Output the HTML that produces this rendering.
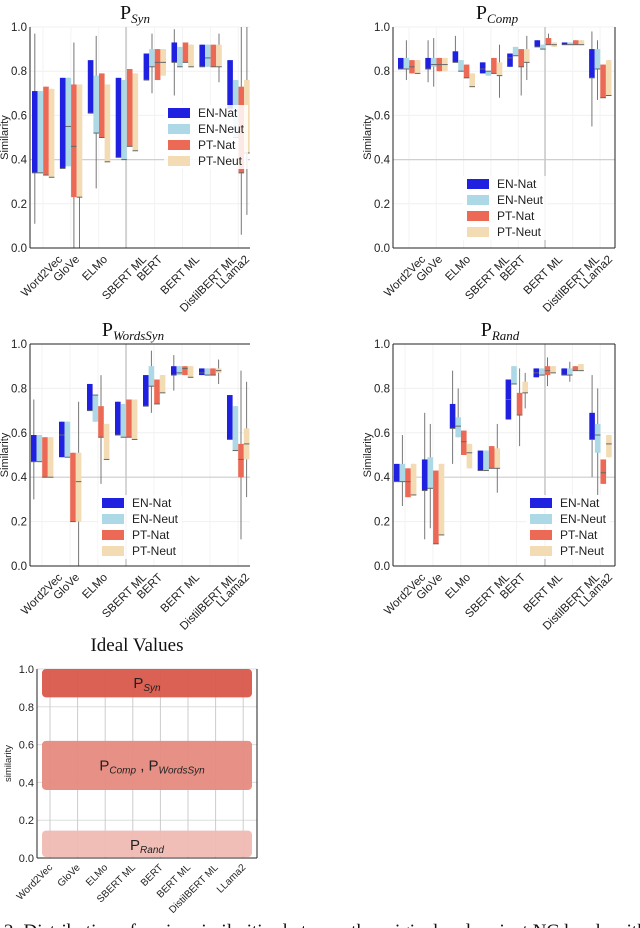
<!DOCTYPE html>
<html><head><meta charset="utf-8">
<style>
html,body{margin:0;padding:0;background:#fff;width:640px;height:928px;overflow:hidden}
svg{display:block}
.t{font-family:"Liberation Sans",sans-serif;fill:#222}
.s{font-family:"Liberation Serif",serif;fill:#111}
</style></head><body>
<svg id="chart" width="640" height="928" viewBox="0 0 640 928" xmlns="http://www.w3.org/2000/svg"></svg>
<script>
const models = ["Word2Vec","GloVe","ELMo","SBERT ML","BERT","BERT ML","DistilBERT ML","LLama2"];
const series = ["EN-Nat","EN-Neut","PT-Nat","PT-Neut"];
const colors = ["#2020e0","#add8e6","#ec6a55","#f3dcb4"];
const yTicks = [0,0.2,0.4,0.6,0.8,1.0];
const yTickLabels = ["0.0","0.2","0.4","0.6","0.8","1.0"];
// each box: [whiskerLow, q1, median, q3, whiskerHigh]
const pSyn = [
 [[0.11,0.34,0.34,0.71,0.97],[0.34,0.34,0.34,0.71,0.71],[0.33,0.33,0.33,0.73,0.73],[0.32,0.32,0.32,0.72,0.72]],
 [[0.36,0.36,0.36,0.77,0.77],[0.37,0.37,0.55,0.77,0.77],[0.0,0.23,0.46,0.74,0.93],[0.0,0.23,0.23,0.74,0.74]],
 [[0.61,0.61,0.61,0.85,0.85],[0.27,0.52,0.52,0.78,0.96],[0.50,0.50,0.50,0.79,0.79],[0.39,0.39,0.39,0.74,0.74]],
 [[0.41,0.41,0.41,0.77,0.77],[0.40,0.40,0.40,0.76,0.76],[0.46,0.46,0.46,0.81,0.81],[0.44,0.44,0.44,0.79,0.79]],
 [[0.76,0.76,0.76,0.88,0.88],[0.70,0.82,0.82,0.90,0.97],[0.76,0.76,0.84,0.90,0.90],[0.78,0.78,0.84,0.90,0.90]],
 [[0.69,0.84,0.84,0.93,0.99],[0.82,0.82,0.82,0.91,0.91],[0.84,0.84,0.84,0.93,0.93],[0.82,0.82,0.82,0.92,0.92]],
 [[0.82,0.82,0.82,0.92,0.92],[0.82,0.82,0.86,0.92,0.92],[0.82,0.82,0.82,0.92,0.92],[0.75,0.82,0.82,0.92,0.97]],
 [[0.63,0.63,0.63,0.85,0.85],[0.50,0.50,0.50,0.76,0.76],[0.06,0.34,0.34,0.73,1.0],[0.15,0.43,0.43,0.76,1.0]]
];
const pComp = [
 [[0.81,0.81,0.81,0.86,0.86],[0.76,0.81,0.81,0.86,0.94],[0.79,0.79,0.82,0.85,0.85],[0.79,0.79,0.79,0.85,0.85]],
 [[0.75,0.81,0.81,0.86,0.94],[0.73,0.82,0.83,0.86,0.95],[0.80,0.80,0.83,0.86,0.86],[0.80,0.80,0.83,0.86,0.86]],
 [[0.84,0.84,0.84,0.89,0.96],[0.80,0.80,0.80,0.85,0.85],[0.77,0.77,0.77,0.83,0.83],[0.73,0.73,0.73,0.79,0.79]],
 [[0.79,0.79,0.81,0.84,0.84],[0.78,0.78,0.80,0.80,0.80],[0.79,0.79,0.79,0.86,0.86],[0.68,0.78,0.78,0.84,0.92]],
 [[0.82,0.82,0.86,0.88,0.88],[0.87,0.87,0.87,0.91,0.91],[0.69,0.82,0.82,0.90,0.90],[0.76,0.84,0.84,0.90,0.96]],
 [[0.91,0.91,0.91,0.94,0.94],[0.90,0.90,0.90,0.92,0.92],[0.92,0.92,0.92,0.95,0.97],[0.91,0.91,0.92,0.93,0.93]],
 [[0.92,0.92,0.92,0.93,0.93],[0.92,0.92,0.92,0.93,0.93],[0.92,0.92,0.92,0.94,0.94],[0.92,0.92,0.92,0.94,0.94]],
 [[0.55,0.77,0.77,0.90,0.98],[0.67,0.81,0.81,0.90,0.94],[0.68,0.68,0.68,0.83,0.83],[0.69,0.69,0.69,0.85,0.85]]
];
const pWords = [
 [[0.30,0.47,0.47,0.59,0.75],[0.47,0.47,0.47,0.59,0.59],[0.40,0.40,0.40,0.58,0.58],[0.40,0.40,0.40,0.58,0.58]],
 [[0.49,0.49,0.59,0.65,0.65],[0.49,0.49,0.49,0.65,0.65],[0.20,0.20,0.20,0.51,0.51],[0.0,0.20,0.38,0.51,0.74]],
 [[0.70,0.70,0.70,0.82,0.82],[0.65,0.65,0.77,0.77,0.77],[0.37,0.58,0.58,0.72,0.86],[0.48,0.48,0.48,0.64,0.64]],
 [[0.59,0.59,0.59,0.74,0.74],[0.58,0.58,0.58,0.73,0.73],[0.58,0.58,0.58,0.75,0.75],[0.57,0.57,0.57,0.75,0.75]],
 [[0.72,0.72,0.72,0.86,0.86],[0.69,0.81,0.81,0.90,0.97],[0.73,0.73,0.73,0.84,0.84],[0.78,0.78,0.78,0.86,0.86]],
 [[0.79,0.86,0.86,0.90,0.95],[0.86,0.86,0.87,0.90,0.90],[0.86,0.86,0.89,0.90,0.90],[0.85,0.85,0.85,0.90,0.90]],
 [[0.86,0.86,0.87,0.89,0.89],[0.86,0.86,0.86,0.89,0.89],[0.86,0.86,0.86,0.89,0.89],[0.82,0.87,0.88,0.89,0.93]],
 [[0.57,0.57,0.57,0.77,0.77],[0.52,0.52,0.52,0.72,0.72],[0.12,0.40,0.48,0.55,0.88],[0.31,0.48,0.55,0.62,0.83]]
];
const pRand = [
 [[0.38,0.38,0.38,0.46,0.46],[0.27,0.38,0.38,0.46,0.59],[0.31,0.31,0.38,0.44,0.44],[0.32,0.32,0.32,0.46,0.46]],
 [[0.12,0.34,0.34,0.48,0.69],[0.17,0.35,0.35,0.49,0.64],[0.10,0.10,0.10,0.43,0.43],[0.14,0.14,0.14,0.46,0.46]],
 [[0.46,0.62,0.62,0.73,0.88],[0.58,0.58,0.63,0.67,0.80],[0.50,0.50,0.56,0.61,0.61],[0.44,0.44,0.51,0.55,0.55]],
 [[0.43,0.43,0.43,0.52,0.52],[0.43,0.43,0.43,0.52,0.52],[0.44,0.44,0.44,0.54,0.54],[0.33,0.44,0.44,0.53,0.64]],
 [[0.66,0.66,0.75,0.84,0.84],[0.82,0.82,0.82,0.90,0.90],[0.54,0.68,0.68,0.78,0.89],[0.71,0.78,0.78,0.83,0.87]],
 [[0.85,0.85,0.87,0.89,0.89],[0.86,0.86,0.86,0.89,0.89],[0.81,0.86,0.88,0.90,0.94],[0.87,0.87,0.87,0.90,0.90]],
 [[0.86,0.86,0.86,0.89,0.89],[0.83,0.86,0.86,0.89,0.92],[0.88,0.88,0.88,0.90,0.90],[0.88,0.88,0.88,0.91,0.91]],
 [[0.40,0.57,0.57,0.69,0.86],[0.32,0.51,0.59,0.64,0.80],[0.37,0.37,0.42,0.48,0.48],[0.49,0.49,0.55,0.59,0.59]]
];
const idealBands = [[0.85,1.0,"#d9594b"],[0.36,0.62,"#e58a80"],[0.005,0.145,"#f0bab3"]];

const NS="http://www.w3.org/2000/svg";
const svg=document.getElementById('chart');
function el(tag,attrs,parent){const e=document.createElementNS(NS,tag);for(const k in attrs)e.setAttribute(k,attrs[k]);(parent||svg).appendChild(e);return e;}

const labelOffsets=[33,50,78,117,133,170,207,220];
function panel(cfg){
  const g=el('g',{});
  
  
  const y=v=>cfg.y0-(cfg.y0-cfg.y1)*v;
  const gx=i=>cfg.first+i*cfg.step;
  yTicks.forEach(v=>{el('line',{x1:cfg.left,x2:cfg.right,y1:y(v),y2:y(v),stroke:'#f0f0f0','stroke-width':1},g);});
  models.forEach((m,i)=>{el('line',{x1:gx(i)+11,x2:gx(i)+11,y1:cfg.y1,y2:cfg.y0,stroke:'#f3f3f3','stroke-width':1},g);});
  const hl=el('line',{x1:cfg.left,x2:cfg.right,y1:y(0.4),y2:y(0.4),stroke:'#cfcfcf','stroke-width':1.2},g);
  
  el('line',{x1:cfg.vline,x2:cfg.vline,y1:cfg.y1,y2:cfg.y0,stroke:'#c8c8c8','stroke-width':1.5},g);
  cfg.data.forEach((grp,i)=>{
    grp.forEach((b,j)=>{
      const x=gx(i)+j*5.6, w=5.6, cx=x+w/2;
      const wl=el('line',{x1:cx,x2:cx,y1:y(b[0]),y2:y(b[4]),stroke:'#777','stroke-width':1},g);
       
      const r=el('rect',{x:x,y:y(b[3]),width:w,height:Math.max(1,y(b[1])-y(b[3])),fill:colors[j]},g);
      
      
      el('line',{x1:x,x2:x+w,y1:y(b[2]),y2:y(b[2]),stroke:'#666','stroke-width':1},g);
    });
  });
  el('line',{x1:cfg.left,x2:cfg.left,y1:cfg.y1,y2:cfg.y0,stroke:'#222','stroke-width':1},g);
  el('line',{x1:cfg.left,x2:cfg.right,y1:cfg.y0,y2:cfg.y0,stroke:'#222','stroke-width':1},g);
  if(cfg.rightSpine) el('line',{x1:cfg.right,x2:cfg.right,y1:cfg.y1,y2:cfg.y0,stroke:'#222','stroke-width':1},g);
  if(cfg.topSpine) el('line',{x1:cfg.left,x2:cfg.right,y1:cfg.y1,y2:cfg.y1,stroke:'#222','stroke-width':1},g);
  yTicks.forEach((v,k)=>{
    const t=el('text',{x:cfg.left-3,y:y(v)+4,'text-anchor':'end','font-size':11.5,class:'t'},g);
    t.textContent=yTickLabels[k];
    
  });
  const yl=el('text',{x:0,y:0,'font-size':11,class:'t','text-anchor':'middle',transform:`translate(${cfg.left-22},${y(0.5)}) rotate(-90)`},g);
  yl.textContent='Similarity';
  
  models.forEach((m,i)=>{
    const xe=cfg.left+labelOffsets[i], ye=cfg.y0+12;
    const t=el('text',{x:0,y:0,'font-size':11.5,class:'t','text-anchor':'end',transform:`translate(${xe},${ye}) rotate(-45)`},g);
    t.textContent=m;
    
  });
  const tt=el('text',{x:cfg.tx,y:cfg.ty,'font-size':20,class:'s','text-anchor':'middle'},g);
  
  const p1=el('tspan',{},tt);p1.textContent='P';
  const p2=el('tspan',{'font-size':13,'font-style':'italic',dy:4},tt);p2.textContent=cfg.sub;
  const lg=el('g',{},g);
  
  el('rect',{x:cfg.lx-4,y:cfg.ly-8,width:84,height:64,fill:'rgba(255,255,255,0.85)'},lg);
  series.forEach((s,j)=>{
    const yy=cfg.ly+j*16;
    const sw=el('rect',{x:cfg.lx,y:yy-5,width:22,height:10,fill:colors[j]},lg);
    
    const t=el('text',{x:cfg.lx+30,y:yy+4,'font-size':12,class:'t'},lg);t.textContent=s;
    
  });
}
panel({name:'panel-psyn',data:pSyn,left:30,right:250,y1:27,y0:248,first:32,step:27.9,vline:126,tx:135,ty:19,sub:'Syn',lx:168,ly:113});
panel({name:'panel-pcomp',data:pComp,left:393,right:615,y1:27,y0:248,first:398,step:27.3,vline:545,rightSpine:true,tx:497,ty:19,sub:'Comp',lx:467,ly:184});
panel({name:'panel-pwordssyn',data:pWords,left:30,right:250,y1:344,y0:566,first:31,step:28,vline:126,topSpine:true,tx:133,ty:336,sub:'WordsSyn',lx:102,ly:503});
panel({name:'panel-prand',data:pRand,left:393,right:615,y1:344,y0:566,first:394,step:27.9,vline:545,topSpine:true,rightSpine:true,tx:500,ty:336,sub:'Rand',lx:530,ly:503});

(function(){
  const left=37,right=257,y1=669,y0=858;
  const g=el('g',{});
  
  const y=v=>y0-(y0-y1)*v;
  yTicks.forEach(v=>el('line',{x1:left,x2:right,y1:y(v),y2:y(v),stroke:'#ddd'},g));
  models.forEach((m,i)=>el('line',{x1:50+i*27.6,x2:50+i*27.6,y1:y1,y2:y0,stroke:'#ccc'},g));
  const names=['band-psyn','band-pcomp-pwordssyn','band-prand'];
  idealBands.forEach((b,k)=>{
    const r=el('rect',{x:42,y:y(b[1]),width:210,height:y(b[0])-y(b[1]),rx:4,fill:b[2],opacity:0.95},g);
    
  });
  el('line',{x1:left,x2:left,y1:y1,y2:y0,stroke:'#222'},g);
  el('line',{x1:left,x2:right,y1:y0,y2:y0,stroke:'#222'},g);
  el('line',{x1:right,x2:right,y1:y1,y2:y0,stroke:'#222'},g);
  yTicks.forEach((v,k)=>{const t=el('text',{x:left-3,y:y(v)+4,'text-anchor':'end','font-size':11,class:'t'},g);t.textContent=yTickLabels[k];
    });
  const yl=el('text',{x:0,y:0,'font-size':9.5,class:'t','text-anchor':'middle',transform:`translate(${left-26},${y(0.5)}) rotate(-90)`},g);yl.textContent='similarity';
  
  models.forEach((m,i)=>{const t=el('text',{x:0,y:0,'font-size':10,class:'t','text-anchor':'end',transform:`translate(${53+i*27.6},${y0+10}) rotate(-45)`},g);t.textContent=m;
    });
  function lab(x,yv,parts){const t=el('text',{x:x,y:y(yv)+5,'font-size':15,class:'t','text-anchor':'middle'},g);
    
    parts.forEach(p=>{const s=el('tspan',p[1]?{'font-size':10,'font-style':'italic',dy:p[2]}:{dy:p[2]},t);s.textContent=p[0];});}
  lab(147,0.925,[['P',0,0],['Syn',1,3]]);
  lab(152,0.49,[['P',0,0],['Comp',1,3],[' , P',0,-3],['WordsSyn',1,3]]);
  lab(147,0.07,[['P',0,0],['Rand',1,3]]);
  const tt=el('text',{x:137,y:651,'font-size':19,class:'s','text-anchor':'middle'},g);tt.textContent='Ideal Values';
  
})();
const cap=el('text',{x:4,y:937,'font-size':19,class:'s'});
cap.textContent='2: Distribution of cosine similarities between the original and variant NC levels with';


</script>
</body></html>
